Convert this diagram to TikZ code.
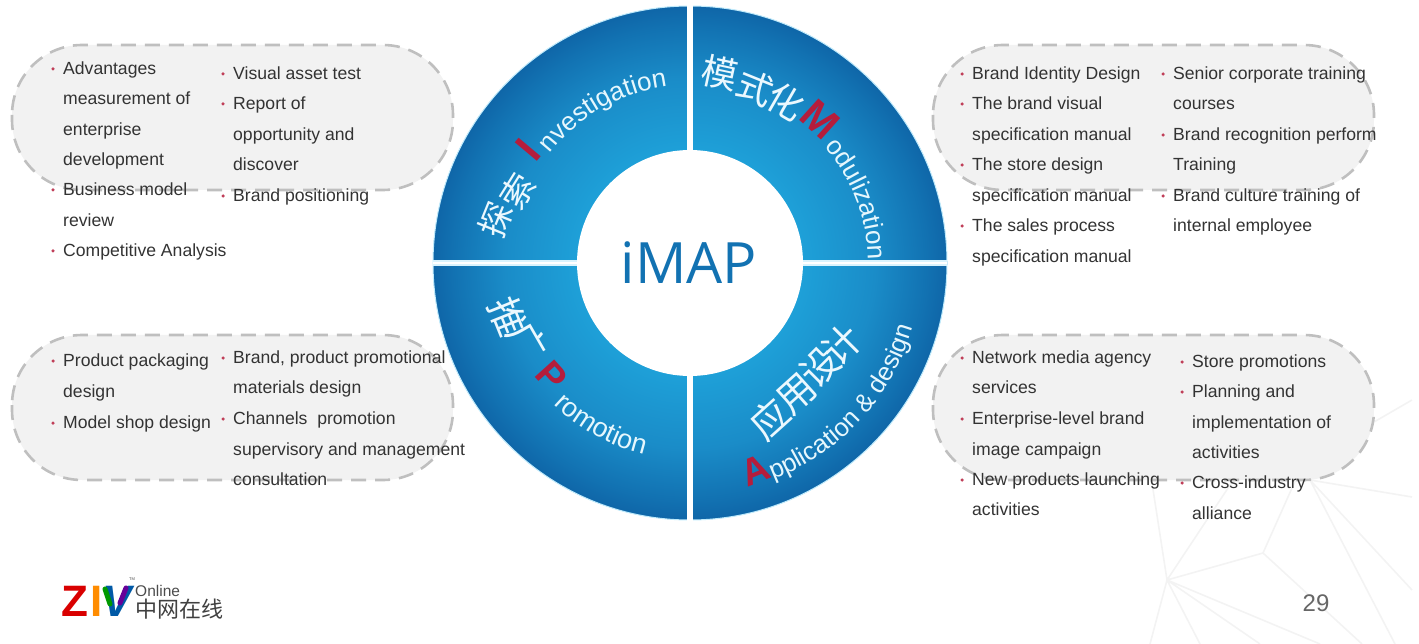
\documentclass[tikz,border=0pt]{standalone}
\usepackage{fontspec}
\usetikzlibrary{decorations.text}
\setmainfont{Liberation Sans}
\newfontfamily\cjk{Noto Sans CJK SC}
\newfontfamily\opens{Open Sans}
\definecolor{ringred}{HTML}{B51D3C}
\definecolor{bodytxt}{HTML}{333333}
\definecolor{webline}{HTML}{F3F3F3}
\definecolor{ringin}{HTML}{1EA0D8}
\definecolor{ringmid}{HTML}{1A8CC8}
\definecolor{ringdk}{HTML}{1272B2}
\definecolor{ringout}{HTML}{0F66A8}
\pgfdeclareradialshading{ringshade}{\pgfpoint{0bp}{0bp}}{%
 color(0bp)=(ringin);
 color(11bp)=(ringin);
 color(18bp)=(ringmid);
 color(23bp)=(ringdk);
 color(25bp)=(ringout);
 color(50bp)=(ringout)}
\newcounter{tn}
\newcommand{\tl}[3]{\stepcounter{tn}\node[tlab] (t\thetn) at (#1,#2+6.5) {#3};}
\newcommand{\bu}[3]{\stepcounter{tn}\node[bul] (b\thetn) at (#1-10,#2+1) {};\node[tlab] (t\thetn) at (#1,#2+6.5) {#3};}
\newcommand{\cjkg}[5]{\node[cjkglyph,font=\cjk\fontsize{#4}{#4}\selectfont,rotate=#5] (#1) at (#2) {#3};}
\newcommand{\redl}[5]{\node[redletter,font=\bfseries\fontsize{#4}{#4}\selectfont,rotate=#5] (#1) at (#2) {#3};}
\newcommand{\arclab}[5]{\path[decorate,decoration={text along path,text align=left,text={|\fontsize{#5}{#5}\selectfont\color{white!90!cyan}|#1}}]
 (#2:#4pt) arc[start angle=#2,end angle=#3,radius=#4pt];}
\tikzset{
 tlab/.style={anchor=base west,inner sep=0pt,text=bodytxt,font=\fontsize{17.6}{17.6}\selectfont},
 bul/.style={circle,fill=ringred!85!white,inner sep=0pt,minimum size=3.5pt},
 capsule/.style={draw=black!25,fill=black!5,line width=2.6pt,dash pattern=on 15pt off 9pt,rounded corners=70pt},
 cjkglyph/.style={text=white!92!cyan,inner sep=0pt},
 redletter/.style={text=ringred,inner sep=0pt},
 web/.style={draw=webline,line width=1.6pt},
}
\begin{document}
\begin{tikzpicture}[x=1pt,y=-1pt]
\useasboundingbox (0,0) rectangle (1419,644);
% faint web background
\coordinate (w1) at (1167,580); \coordinate (w2) at (1263,553);
\coordinate (w3) at (1300,470); \coordinate (w4) at (1150,470);
\coordinate (w5) at (1240,470); \coordinate (w6) at (1150,644);
\coordinate (w7) at (1200,644); \coordinate (w8) at (1320,644);
\coordinate (w9) at (1260,644); \coordinate (w10) at (1310,480);
\coordinate (w11) at (1395,644); \coordinate (w12) at (1412,590);
\coordinate (w13) at (1412,497); \coordinate (w14) at (1374,422);
\coordinate (w15) at (1412,400); \coordinate (w16) at (1362,644);
\path[web] (w1)--(w2) (w2)--(w3) (w1)--(w4) (w1)--(w5) (w1)--(w6) (w1)--(w7) (w1)--(w8) (w1)--(w9)
 (w2)--(w16) (w10)--(w11) (w10)--(w12) (w10)--(w13) (w14)--(w15);
% capsules
\draw[capsule] (12,45) rectangle (453,190);
\draw[capsule] (12,335) rectangle (453,480);
\draw[capsule] (933,45) rectangle (1374,190);
\draw[capsule] (933,335) rectangle (1374,480);
% ring
\coordinate (cc) at (690,263);
\shade[shading=ringshade] (cc) circle[radius=257pt];
\draw[cyan!25!white,line width=1pt] (cc) circle[radius=257pt];
\draw[cyan!15!white,line width=5.5pt] (433,263) -- (947,263);
\draw[white,line width=2.5pt] (433,263) -- (947,263);
\draw[white,line width=5.5pt] (690,5) -- (690,521);
\fill[white] (cc) circle[radius=113pt];
\node[text=ringdk,font=\opens\fontsize{57}{57}\selectfont,inner sep=0pt] (imap) at (689,263) {iMAP};
% ring labels
\begin{scope}[shift={(690,263)},x=1pt,y=1pt]
\arclab{nvestigation}{142}{60}{178}{26}
\arclab{odulization}{41}{-30}{178}{26}
\arclab{romotion}{226}{290}{197}{27}
\arclab{pplication {\&} design}{-69}{10}{232}{25.5}
\end{scope}
\cjkg{c1}{496,220}{探}{34}{68}
\cjkg{c2}{517,191}{索}{34}{58}
\redl{rI}{528,150}{I}{42}{50}
\cjkg{c3}{720,73}{模}{36}{-12}
\cjkg{c4}{755,88}{式}{36}{-22}
\cjkg{c5}{786,102}{化}{36}{-30}
\redl{rM}{820,119}{M}{42}{-42}
\cjkg{c6}{508,317}{推}{38}{-68}
\cjkg{c7}{527,342}{广}{38}{-60}
\redl{rP}{552,376}{P}{38}{-48}
\cjkg{c8}{770,419}{应}{38}{42}
\cjkg{c9}{797,394}{用}{38}{42}
\cjkg{c10}{820,367}{设}{38}{45}
\cjkg{c11}{842,345}{计}{38}{45}
\redl{rA}{755,470}{A}{38}{22}
% top left
\bu{63}{68}{Advantages}
\tl{63}{98}{measurement of}
\tl{63}{129}{enterprise}
\tl{63}{159}{development}
\bu{63}{189}{Business model}
\tl{63}{220}{review}
\bu{63}{250}{Competitive Analysis}
\bu{233}{73}{Visual asset test}
\bu{233}{103}{Report of}
\tl{233}{134}{opportunity and}
\tl{233}{164}{discover}
\bu{233}{195}{Brand positioning}
% bottom left
\bu{63}{360}{Product packaging}
\tl{63}{391}{design}
\bu{63}{422}{Model shop design}
\bu{233}{357}{Brand, product promotional}
\tl{233}{387}{materials design}
\bu{233}{418}{Channels\ \ promotion}
\tl{233}{449}{supervisory and management}
\tl{233}{479}{consultation}
% top right
\bu{972}{73}{Brand Identity Design}
\bu{972}{103}{The brand visual}
\tl{972}{134}{specification manual}
\bu{972}{164}{The store design}
\tl{972}{195}{specification manual}
\bu{972}{225}{The sales process}
\tl{972}{256}{specification manual}
\bu{1173}{73}{Senior corporate training}
\tl{1173}{103}{courses}
\bu{1173}{134}{Brand recognition perform}
\tl{1173}{164}{Training}
\bu{1173}{195}{Brand culture training of}
\tl{1173}{225}{internal employee}
% bottom right
\bu{972}{357}{Network media agency}
\tl{972}{387}{services}
\bu{972}{418}{Enterprise-level brand}
\tl{972}{449}{image campaign}
\bu{972}{479}{New products launching}
\tl{972}{509}{activities}
\bu{1192}{361}{Store promotions}
\bu{1192}{391}{Planning and}
\tl{1192}{422}{implementation of}
\tl{1192}{452}{activities}
\bu{1192}{482}{Cross-industry}
\tl{1192}{513}{alliance}
% logo
\node[inner sep=0pt,text=red!85!black,font=\bfseries\fontsize{44}{44}\selectfont] (lz) at (75,601) {Z};
\node[inner sep=0pt,text=orange!90!yellow,font=\bfseries\fontsize{44}{44}\selectfont] (li) at (97,601) {I};
\node[inner sep=0pt,text=teal!70!blue,font=\bfseries\itshape\fontsize{44}{44}\selectfont] (lv) at (117,601) {V};
\draw[green!60!black,line width=5pt,line cap=round] (105,589) -- (110,604);
\draw[violet!80!blue,line width=5pt,line cap=round] (126,588) -- (120,603);
\node[inner sep=0pt,text=black!70,font=\fontsize{4}{4}\selectfont] (ltm) at (132,579) {TM};
\node[anchor=west,inner sep=0pt,text=black!70,font=\fontsize{15.5}{15.5}\selectfont] (lon) at (135,591) {Online};
\node[anchor=west,inner sep=0pt,text=black!75,font=\cjk\fontsize{22}{22}\selectfont] (lcn) at (135,609) {中网在线};
\node[inner sep=0pt,text=black!60,font=\fontsize{24}{24}\selectfont] (page) at (1316,603) {29};
\end{tikzpicture}
\end{document}
